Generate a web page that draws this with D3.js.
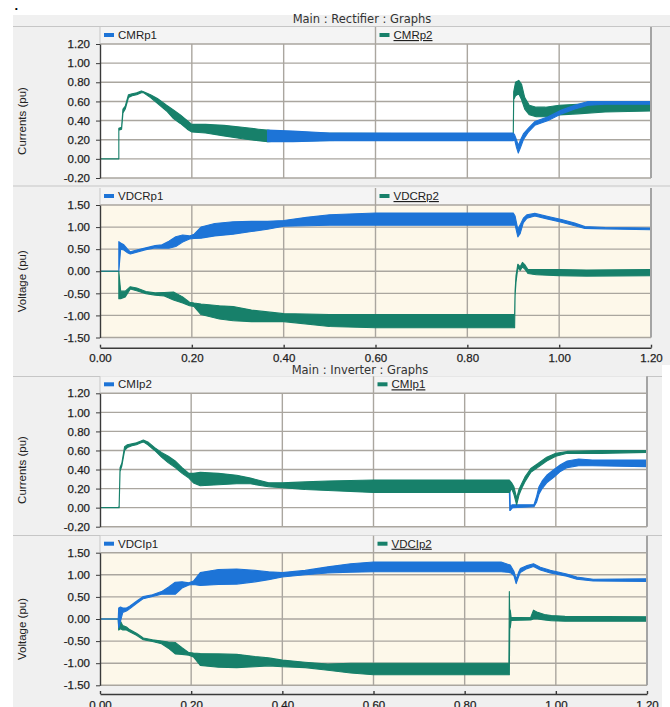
<!DOCTYPE html>
<html>
<head>
<meta charset="utf-8">
<script src="https://cdn.jsdelivr.net/npm/d3@7"></script>
<style>
  body { margin: 0; background: #fff; }
  svg { display: block; font-family: "Liberation Sans", Arial, sans-serif; }
</style>
</head>
<body>
<svg id="chart" width="670" height="707"></svg>
<script>
// axis ticks
var xTicks = [0, 0.2, 0.4, 0.6, 0.8, 1.0, 1.2]
var currentTicks = [-0.2, 0, 0.2, 0.4, 0.6, 0.8, 1.0, 1.2]
var voltageTicks = [-1.5, -1.0, -0.5, 0, 0.5, 1.0, 1.5]

// each row: [time (s), lower envelope, upper envelope]
var CMRp1 = [
  [0.365, 0.18, 0.30], [0.42, 0.18, 0.29], [0.5, 0.19, 0.27], [0.7, 0.19, 0.27],
  [0.9, 0.19, 0.27], [0.903, 0.20, 0.25], [0.907, 0.12, 0.20], [0.911, 0.06, 0.14],
  [0.916, 0.12, 0.20], [0.922, 0.20, 0.26], [0.933, 0.28, 0.32], [0.947, 0.35, 0.39],
  [0.976, 0.40, 0.44], [1.005, 0.47, 0.51], [1.034, 0.52, 0.56], [1.063, 0.56, 0.60],
  [1.1, 0.57, 0.60], [1.2, 0.57, 0.60]
]
var CMRp2 = [
  [0, 0, 0], [0.041, 0, 0], [0.041, 0.30, 0.32], [0.047, 0.31, 0.33], [0.05, 0.48, 0.52],
  [0.055, 0.52, 0.55], [0.062, 0.64, 0.67], [0.07, 0.66, 0.68], [0.08, 0.67, 0.69],
  [0.09, 0.69, 0.71], [0.095, 0.69, 0.70], [0.11, 0.64, 0.67], [0.125, 0.58, 0.63],
  [0.145, 0.50, 0.56], [0.16, 0.42, 0.51], [0.175, 0.37, 0.46], [0.19, 0.31, 0.40],
  [0.2, 0.28, 0.36], [0.23, 0.27, 0.36], [0.27, 0.24, 0.35], [0.31, 0.21, 0.33],
  [0.345, 0.19, 0.31], [0.365, 0.18, 0.30], [0.4, 0.19, 0.27], [0.899, 0.20, 0.26],
  [0.9, 0.22, 0.24], [0.901, 0.62, 0.70], [0.905, 0.66, 0.80], [0.912, 0.68, 0.82],
  [0.918, 0.62, 0.78], [0.925, 0.52, 0.64], [0.935, 0.46, 0.56], [0.95, 0.44, 0.54],
  [0.97, 0.44, 0.54], [1.0, 0.46, 0.56], [1.04, 0.47, 0.57], [1.1, 0.49, 0.58],
  [1.2, 0.50, 0.58]
]
var VDCRp1 = [
  [0, 0, 0], [0.041, 0, 0], [0.041, 0.0, 0.67], [0.045, 0.50, 0.64], [0.052, 0.48, 0.60],
  [0.06, 0.42, 0.50], [0.066, 0.39, 0.44], [0.08, 0.43, 0.48], [0.1, 0.49, 0.53],
  [0.12, 0.53, 0.58], [0.135, 0.52, 0.60], [0.15, 0.52, 0.68], [0.165, 0.56, 0.78],
  [0.18, 0.66, 0.82], [0.195, 0.73, 0.80], [0.205, 0.74, 0.84], [0.22, 0.75, 1.00],
  [0.25, 0.80, 1.08], [0.29, 0.84, 1.12], [0.33, 0.90, 1.13], [0.365, 0.95, 1.13],
  [0.4, 1.02, 1.15], [0.45, 1.03, 1.22], [0.5, 1.04, 1.28], [0.6, 1.04, 1.32],
  [0.9, 1.04, 1.32], [0.904, 1.05, 1.25], [0.91, 0.78, 0.95], [0.915, 0.85, 1.05],
  [0.922, 1.10, 1.20], [0.93, 1.20, 1.28], [0.947, 1.25, 1.31], [0.976, 1.18, 1.24],
  [1.005, 1.11, 1.17], [1.034, 1.03, 1.09], [1.056, 0.97, 1.01], [1.1, 0.96, 0.99],
  [1.2, 0.94, 0.98]
]
var VDCRp2 = [
  [0, 0, 0], [0.041, 0, 0], [0.041, -0.62, 0], [0.045, -0.62, -0.45], [0.055, -0.58, -0.45],
  [0.066, -0.40, -0.35], [0.08, -0.44, -0.38], [0.1, -0.51, -0.46], [0.12, -0.54, -0.49],
  [0.14, -0.56, -0.48], [0.16, -0.65, -0.47], [0.18, -0.72, -0.58], [0.195, -0.78, -0.70],
  [0.205, -0.80, -0.72], [0.22, -0.98, -0.74], [0.26, -1.08, -0.78], [0.29, -1.12, -0.80],
  [0.33, -1.14, -0.88], [0.365, -1.14, -0.92], [0.4, -1.14, -0.96], [0.5, -1.25, -0.98],
  [0.6, -1.28, -0.98], [0.903, -1.28, -0.98], [0.904, -0.55, -0.45], [0.906, -0.25, -0.10],
  [0.91, 0.08, 0.16], [0.915, 0.02, 0.10], [0.92, 0.10, 0.20], [0.925, 0.05, 0.15],
  [0.932, -0.05, 0.04], [0.95, -0.08, 0.04], [1.0, -0.10, 0.04], [1.06, -0.11, 0.03],
  [1.2, -0.10, 0.04]
]
var CMIp2 = [
  [0.88, 0.18, 0.26], [0.898, 0.18, 0.26], [0.899, -0.03, 0.26], [0.9, -0.03, 0.02],
  [0.905, 0.0, 0.03], [0.952, 0.01, 0.03], [0.958, 0.06, 0.12], [0.963, 0.14, 0.22],
  [0.97, 0.20, 0.28], [0.98, 0.26, 0.34], [0.996, 0.32, 0.40], [1.01, 0.38, 0.45],
  [1.025, 0.42, 0.49], [1.05, 0.44, 0.51], [1.08, 0.44, 0.50], [1.2, 0.43, 0.50]
]
var CMIp1 = [
  [0, 0, 0], [0.041, 0, 0], [0.042, 0.0, 0.02], [0.044, 0.38, 0.42], [0.048, 0.44, 0.47],
  [0.054, 0.60, 0.64], [0.06, 0.63, 0.66], [0.07, 0.65, 0.67], [0.08, 0.66, 0.68],
  [0.09, 0.68, 0.70], [0.095, 0.69, 0.71], [0.105, 0.66, 0.69], [0.12, 0.60, 0.63],
  [0.135, 0.53, 0.58], [0.15, 0.47, 0.54], [0.165, 0.42, 0.49], [0.18, 0.36, 0.42],
  [0.195, 0.31, 0.36], [0.205, 0.26, 0.36], [0.22, 0.23, 0.37], [0.26, 0.24, 0.36],
  [0.3, 0.25, 0.34], [0.33, 0.25, 0.31], [0.355, 0.23, 0.28], [0.37, 0.22, 0.26],
  [0.4, 0.21, 0.26], [0.45, 0.19, 0.27], [0.5, 0.18, 0.28], [0.6, 0.16, 0.29],
  [0.898, 0.16, 0.29], [0.903, 0.20, 0.26], [0.908, 0.14, 0.22], [0.914, 0.03, 0.10],
  [0.919, 0.13, 0.19], [0.925, 0.20, 0.25], [0.932, 0.27, 0.32], [0.945, 0.37, 0.41],
  [0.96, 0.42, 0.46], [0.98, 0.49, 0.53], [1.0, 0.54, 0.57], [1.025, 0.57, 0.59],
  [1.1, 0.57, 0.60], [1.2, 0.58, 0.60]
]
var VDCIp1 = [
  [0, 0, 0], [0.04, 0, 0], [0.041, -0.20, 0.25], [0.045, -0.05, 0.27], [0.05, 0.15, 0.25],
  [0.058, 0.18, 0.25], [0.065, 0.23, 0.29], [0.08, 0.35, 0.40], [0.095, 0.46, 0.51],
  [0.115, 0.51, 0.55], [0.135, 0.56, 0.62], [0.15, 0.56, 0.72], [0.165, 0.56, 0.83],
  [0.18, 0.70, 0.84], [0.195, 0.77, 0.82], [0.205, 0.78, 0.86], [0.22, 0.76, 1.05],
  [0.26, 0.78, 1.12], [0.3, 0.79, 1.13], [0.34, 0.84, 1.10], [0.37, 0.89, 1.07],
  [0.4, 0.95, 1.05], [0.45, 1.00, 1.10], [0.5, 1.04, 1.18], [0.55, 1.06, 1.25],
  [0.6, 1.07, 1.29], [0.88, 1.07, 1.29], [0.9, 1.05, 1.22], [0.908, 0.98, 1.08],
  [0.913, 0.80, 0.90], [0.918, 0.95, 1.05], [0.922, 1.05, 1.14], [0.937, 1.14, 1.21],
  [0.951, 1.19, 1.25], [0.966, 1.11, 1.17], [0.988, 1.04, 1.10], [1.024, 0.97, 1.02],
  [1.046, 0.90, 0.95], [1.082, 0.86, 0.90], [1.2, 0.85, 0.91]
]
var VDCIp2 = [
  [0, 0, 0], [0.04, 0, 0], [0.041, -0.25, 0.0], [0.045, -0.22, -0.05], [0.05, -0.25, -0.15],
  [0.058, -0.25, -0.18], [0.065, -0.29, -0.24], [0.08, -0.37, -0.32], [0.095, -0.47, -0.43],
  [0.115, -0.51, -0.47], [0.135, -0.56, -0.50], [0.15, -0.66, -0.52], [0.165, -0.79, -0.53],
  [0.18, -0.80, -0.65], [0.195, -0.82, -0.76], [0.205, -0.86, -0.77], [0.22, -1.05, -0.78],
  [0.26, -1.09, -0.79], [0.3, -1.10, -0.80], [0.34, -1.08, -0.85], [0.37, -1.06, -0.88],
  [0.4, -1.08, -0.93], [0.45, -1.10, -0.98], [0.5, -1.16, -1.02], [0.55, -1.22, -1.0],
  [0.6, -1.26, -1.0], [0.897, -1.26, -1.0], [0.898, -1.26, 0.62], [0.899, -0.05, 0.05],
  [0.9, -0.20, 0.20], [0.902, -0.03, 0.03], [0.945, -0.02, 0.04], [0.951, 0.0, 0.20],
  [0.96, 0.0, 0.15], [0.975, -0.02, 0.10], [0.99, -0.04, 0.08], [1.02, -0.05, 0.06],
  [1.2, -0.05, 0.05]
]

var blue = '#1d74d7'
var green = '#17806a'
var cream = '#fdf8ea'
var gridColor = '#aaa69f'
var sepColor = '#c6c6c6'

var fmt = d3.formatLocale({ decimal: '.', thousands: ',', grouping: [3], currency: ['', ''], minus: '-' }).format('.2f')

var svg = d3.select('#chart')

// window chrome
svg.append('rect').attr('x', 13).attr('y', 15).attr('width', 657).attr('height', 692).attr('fill', '#f0f0f0')
svg.append('rect').attr('x', 662).attr('y', 365).attr('width', 8).attr('height', 342).attr('fill', '#ffffff')
svg.append('text').attr('x', 14.5).attr('y', 10).attr('font-size', 13).attr('font-weight', 'bold')
  .attr('fill', '#000').text('.')

hline(26.5, 13, 670)
hline(186, 13, 670)
hline(376.5, 13, 662)
hline(535.5, 13, 662)

title('Main : Rectifier : Graphs', 362, 22.5)
title('Main : Inverter : Graphs', 360, 373.5)

drawPanel({
  top: 44, bottom: 178, right: 651, ticks: currentTicks, bg: '#ffffff', label: 'Currents (pu)',
  legend: [['CMRp1', blue], ['CMRp2', green]],
  layers: [[CMRp2, green], [CMRp1, blue]]
})
drawPanel({
  top: 205, bottom: 337.5, right: 651, ticks: voltageTicks, bg: cream, label: 'Voltage (pu)',
  legend: [['VDCRp1', blue], ['VDCRp2', green]],
  layers: [[VDCRp1, blue], [VDCRp2, green]]
})
drawXAxis(651, 347.7)

drawPanel({
  top: 393.3, bottom: 526.7, right: 647, ticks: currentTicks, bg: '#ffffff', label: 'Currents (pu)',
  legend: [['CMIp2', blue], ['CMIp1', green]],
  layers: [[CMIp2, blue], [CMIp1, green]]
})
drawPanel({
  top: 552.7, bottom: 685.3, right: 647, ticks: voltageTicks, bg: cream, label: 'Voltage (pu)',
  legend: [['VDCIp1', blue], ['VDCIp2', green]],
  layers: [[VDCIp2, green], [VDCIp1, blue]]
})
drawXAxis(647, 694)

function hline (y, x1, x2) {
  svg.append('line').attr('x1', x1).attr('x2', x2).attr('y1', y).attr('y2', y)
    .attr('stroke', sepColor).attr('stroke-width', 1)
}

function title (txt, cx, y) {
  svg.append('text').attr('x', cx).attr('y', y)
    .attr('text-anchor', 'middle')
    .style('font-family', '"DejaVu Sans", sans-serif')
    .attr('font-size', 11.5).attr('fill', '#333').text(txt)
}

function drawPanel (p) {
  var x = d3.scaleLinear().domain([0, 1.2]).range([100, p.right])
  var y = d3.scaleLinear().domain([p.ticks[0], p.ticks[p.ticks.length - 1]]).range([p.bottom, p.top])
  var stripTop = p.top - 17
  var g = svg.append('g')

  // legend strip
  g.append('rect').attr('x', 100).attr('y', stripTop).attr('width', p.right - 100).attr('height', 17)
    .attr('fill', '#f4f4f4')

  // plot background
  g.append('rect').attr('x', 100).attr('y', p.top).attr('width', p.right - 100).attr('height', p.bottom - p.top)
    .attr('fill', p.bg)

  // grid
  g.append('g').selectAll('line').data(p.ticks).join('line')
    .attr('x1', 100).attr('x2', p.right)
    .attr('y1', function (d) { return y(d) }).attr('y2', function (d) { return y(d) })
    .attr('stroke', gridColor).attr('stroke-width', 1.4)
  g.append('g').selectAll('line').data(xTicks.slice(1, -1)).join('line')
    .attr('x1', function (d) { return x(d) }).attr('x2', function (d) { return x(d) })
    .attr('y1', function (d) { return d === 0.6 ? stripTop : p.top }).attr('y2', p.bottom)
    .attr('stroke', gridColor).attr('stroke-width', 1.4)

  // series envelopes
  var clipId = 'clip' + Math.round(p.top)
  g.append('clipPath').attr('id', clipId).append('rect')
    .attr('x', 100).attr('y', p.top).attr('width', p.right - 100).attr('height', p.bottom - p.top)
  var area = d3.area()
    .x(function (d) { return x(d[0]) })
    .y0(function (d) { return y(d[1]) })
    .y1(function (d) { return y(d[2]) })
  var lay = g.append('g').attr('clip-path', 'url(#' + clipId + ')')
  p.layers.forEach(function (l) {
    lay.append('path').datum(l[0]).attr('d', area)
      .attr('fill', l[1]).attr('stroke', l[1]).attr('stroke-width', 1.1)
      .attr('stroke-linejoin', 'round')
  })

  // right border
  g.append('line').attr('x1', p.right).attr('x2', p.right).attr('y1', stripTop).attr('y2', p.bottom)
    .attr('stroke', '#a4a4a4').attr('stroke-width', 2)
  g.append('line').attr('x1', 100).attr('x2', 100).attr('y1', stripTop).attr('y2', p.top)
    .attr('stroke', sepColor).attr('stroke-width', 1)

  // y axis
  var ax = g.append('g').attr('transform', 'translate(100,0)')
    .call(d3.axisLeft(y).tickValues(p.ticks).tickFormat(fmt).tickSize(4).tickSizeOuter(0).tickPadding(6))
  ax.select('.domain').attr('stroke', '#3a3a3a').attr('stroke-width', 1.4)
  ax.selectAll('.tick line').attr('stroke', '#3a3a3a')
  ax.selectAll('.tick text').attr('fill', '#1e1e1e').attr('font-size', 11.5)
    .attr('stroke', '#1e1e1e').attr('stroke-width', 0.25)
    .style('font-family', '"Liberation Sans", Arial, sans-serif')

  // axis label
  var cy = (p.top + p.bottom) / 2 + 10
  g.append('text').attr('transform', 'translate(26,' + cy + ') rotate(-90)')
    .attr('text-anchor', 'middle').attr('font-size', 11.5).attr('fill', '#222')
    .text(p.label)

  // legend cells
  var cells = [100, x(0.6)]
  p.legend.forEach(function (item, i) {
    var cx = cells[i]
    g.append('rect').attr('x', cx + 4).attr('y', p.top - 11).attr('width', 10).attr('height', 4)
      .attr('fill', item[1])
    var t = g.append('text').attr('x', cx + 18).attr('y', p.top - 5)
      .attr('font-size', 11.5).attr('fill', '#1e1e1e').text(item[0])
    if (i === 1) t.attr('text-decoration', 'underline')
  })
}

function drawXAxis (right, yPos) {
  var x = d3.scaleLinear().domain([0, 1.2]).range([100, right])
  var ax = svg.append('g').attr('transform', 'translate(0,' + yPos + ')')
    .call(d3.axisBottom(x).tickValues(xTicks).tickFormat(fmt).tickSizeInner(-3).tickSizeOuter(0).tickPadding(6.5))
  ax.select('.domain').attr('stroke', '#3a3a3a').attr('stroke-width', 1.4)
  ax.selectAll('.tick line').attr('stroke', '#3a3a3a').attr('stroke-width', 1.4)
  ax.selectAll('.tick text').attr('fill', '#1e1e1e').attr('font-size', 11.5)
    .attr('stroke', '#1e1e1e').attr('stroke-width', 0.25)
    .style('font-family', '"Liberation Sans", Arial, sans-serif')
}
</script>
</body>
</html>
